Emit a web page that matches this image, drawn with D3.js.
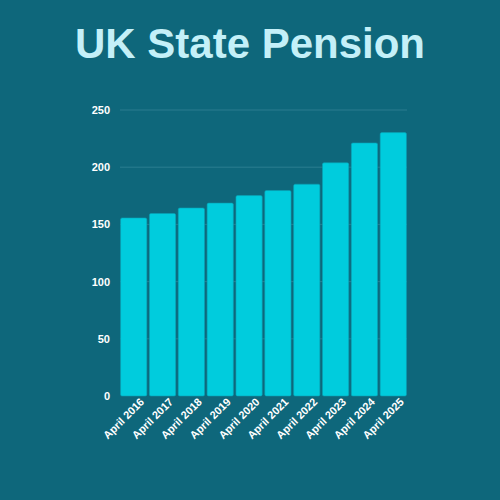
<!DOCTYPE html>
<html>
<head>
<meta charset="utf-8">
<script src="https://cdn.jsdelivr.net/npm/d3@7"></script>
<style>
  body { margin: 0; background: #0e677b; }
  svg { display: block; }
</style>
</head>
<body>
<svg width="500" height="500"></svg>
<script>
// chart data
const years = ["April 2016", "April 2017", "April 2018", "April 2019", "April 2020",
               "April 2021", "April 2022", "April 2023", "April 2024", "April 2025"];
const pension = [155.65, 159.55, 164.35, 168.60, 175.20, 179.60, 185.15, 203.85, 221.20, 230.25];
const yTicks = [0, 50, 100, 150, 200, 250];

const svg = d3.select("svg"),
    width = +svg.attr("width"),
    height = +svg.attr("height");

const margin = {top: 110, right: 93, bottom: 104, left: 120};

svg.append("rect")
    .attr("width", width)
    .attr("height", height)
    .attr("fill", "#0e677b");

// title
svg.append("text")
    .attr("x", width / 2)
    .attr("y", 58)
    .attr("text-anchor", "middle")
    .style("font-family", "'Liberation Sans', Arial, sans-serif")
    .style("font-weight", "bold")
    .style("font-size", "42px")
    .attr("fill", "#c4f0f8")
    .text("UK State Pension");

const x = d3.scaleBand()
    .domain(years)
    .range([margin.left, width - margin.right])
    .paddingInner(0.09)
    .paddingOuter(0.02);

const y = d3.scaleLinear()
    .domain([0, 250])
    .range([height - margin.bottom, margin.top]);

// grid lines
svg.append("g")
    .selectAll("line")
    .data(yTicks.slice(1))
    .join("line")
      .attr("x1", margin.left)
      .attr("x2", width - margin.right)
      .attr("y1", d => y(d))
      .attr("y2", d => y(d))
      .attr("stroke", "#2a7d90")
      .attr("stroke-width", 1);

// bars
svg.append("g")
    .selectAll("rect")
    .data(pension)
    .join("rect")
      .attr("x", (d, i) => x(years[i]))
      .attr("y", d => y(d))
      .attr("width", x.bandwidth())
      .attr("height", d => y(0) - y(d))
      .attr("rx", 1.5)
      .attr("fill", "#00ccdd")
      .attr("stroke", "#0a9fb3")
      .attr("stroke-width", 0.6);

// y axis
const yAxis = svg.append("g")
    .attr("transform", `translate(${margin.left},0)`)
    .call(d3.axisLeft(y).tickValues(yTicks).tickSize(0).tickPadding(10));
yAxis.select(".domain").remove();
yAxis.selectAll("text")
    .attr("fill", "#ffffff")
    .style("font-family", "'Liberation Sans', Arial, sans-serif")
    .style("font-weight", "bold")
    .style("font-size", "11px");

// x axis
const xAxis = svg.append("g")
    .attr("transform", `translate(0,${height - margin.bottom})`)
    .call(d3.axisBottom(x).tickSize(0).tickPadding(6));
xAxis.select(".domain").remove();
xAxis.selectAll("text")
    .attr("fill", "#ffffff")
    .style("font-family", "'Liberation Sans', Arial, sans-serif")
    .style("font-weight", "bold")
    .style("font-size", "11px")
    .attr("text-anchor", "end")
    .attr("dx", "0.3em")
    .attr("dy", "0.6em")
    .attr("transform", "rotate(-45)");
</script>
</body>
</html>
